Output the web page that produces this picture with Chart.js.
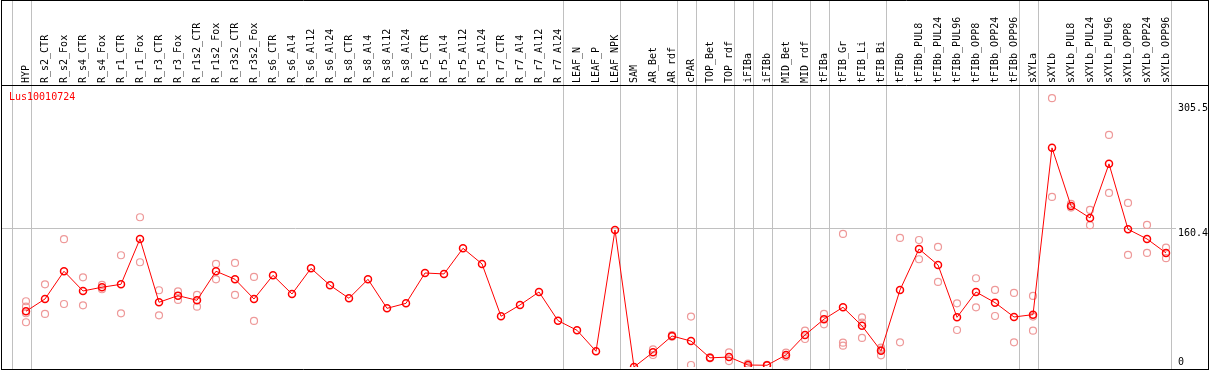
<!DOCTYPE html>
<html>
<head>
<meta charset="utf-8">
<script src="https://cdn.jsdelivr.net/npm/chart.js@4.4.1/dist/chart.umd.min.js"></script>
<style>
  html, body { margin: 0; padding: 0; background: #fff; }
  #wrap { width: 1209px; height: 370px; position: relative; }
</style>
</head>
<body>
<div id="wrap"><canvas id="grafico"></canvas></div>
<script>
// categorias (amostras)
const categorias = [
  'HYP', 'R_s2_CTR', 'R_s2_Fox', 'R_s4_CTR', 'R_s4_Fox', 'R_r1_CTR', 'R_r1_Fox',
  'R_r3_CTR', 'R_r3_Fox', 'R_r1s2_CTR', 'R_r1s2_Fox', 'R_r3s2_CTR', 'R_r3s2_Fox',
  'R_s6_CTR', 'R_s6_Al4', 'R_s6_Al12', 'R_s6_Al24', 'R_s8_CTR', 'R_s8_Al4', 'R_s8_Al12',
  'R_s8_Al24', 'R_r5_CTR', 'R_r5_Al4', 'R_r5_Al12', 'R_r5_Al24', 'R_r7_CTR', 'R_r7_Al4',
  'R_r7_Al12', 'R_r7_Al24', 'LEAF_N', 'LEAF_P', 'LEAF_NPK', 'SAM', 'AR_Bet', 'AR_rdf',
  'cPAR', 'TOP_Bet', 'TOP_rdf', 'iFIBa', 'iFIBb', 'MID_Bet', 'MID_rdf', 'tFIBa',
  'tFIB_Gr', 'tFIB_Li', 'tFIB_Bi', 'tFIBb', 'tFIBb_PUL8', 'tFIBb_PUL24', 'tFIBb_PUL96',
  'tFIBb_OPP8', 'tFIBb_OPP24', 'tFIBb_OPP96', 'sXYLa', 'sXYLb', 'sXYLb_PUL8',
  'sXYLb_PUL24', 'sXYLb_PUL96', 'sXYLb_OPP8', 'sXYLb_OPP24', 'sXYLb_OPP96'
];

// média de expressão
const medias = [
  64.5, 78.7, 110.8, 88, 92.3, 95.7, 148.2, 74.9, 82.6, 77.2, 110.8, 101.5, 78.7,
  106.1, 84.5, 114.2, 94.6, 79.5, 101.5, 67.9, 73.7, 108.8, 107.7, 137.4, 119.3,
  58.7, 71.8, 86.8, 53.6, 42.5, 18.2, 158.6, 0, 17, 35.9, 30, 10.6, 11.5, 2.3, 2,
  14, 37, 55.4, 69.1, 47.6, 18.7, 89.2, 136.6, 118.1, 57.5, 86.8, 74.5, 57.9, 60.6,
  253.6, 186.4, 172.5, 235.1, 159.4, 148.2, 132
];

// réplicas por amostra
const replicas = [
  [76.1, 69.8, 62.2, 51.8], [95.7, 61.4], [147.9, 72.9], [103.8, 71.4], [95, 90],
  [129.3, 62.1], [173.3, 121.2], [88.8, 59.8], [87.6, 77.6], [83.4, 69.8],
  [119.3, 101.5], [120.4, 83.4], [104.2, 53.3],
  [], [], [], [], [], [], [], [], [], [], [], [], [], [], [], [], [], [], [], [],
  [20.5, 13.9], [37, 35], [58.3, 2.3], [11.2, 10], [17, 6.9], [4, 0.5], [2.5, 1.5],
  [16.6, 12], [42, 32.4], [61.4, 49.4], [154, 28.1, 24.7], [57.5, 51.3, 33.6],
  [22.4, 20, 13.5], [149.4, 28.6], [147, 124.7], [139, 98.4], [73.7, 42.8],
  [102.7, 69.1], [89.2, 59], [85.7, 28.6], [82.2, 58.3, 42], [311.1, 196.8],
  [188.7, 184.5], [181.8, 164.1], [268.6, 201.5], [189.9, 129.7], [164.4, 132],
  [138.2, 125.9]
];

// índices após os quais há uma linha de separação
const separadores = [-1, 0, 28, 31, 34, 35, 37, 38, 39, 41, 42, 45, 52, 53, 60];

const yTicks = [0, 160.4, 305.5];
const titulo = 'Lus10010724';

const FONTE = '"DejaVu Sans Mono", monospace';

const pontosMedia = medias.map((v, i) => ({ x: i, y: v }));
const pontosReplicas = [];
replicas.forEach((lista, i) => lista.forEach(v => pontosReplicas.push({ x: i, y: v })));

// moldura, separadores e título
const moldura = {
  id: 'moldura',
  beforeDatasetsDraw(chart) {
    const ctx = chart.ctx;
    const xs = chart.scales.x;
    ctx.save();
    ctx.strokeStyle = '#c0c0c0';
    ctx.lineWidth = 1;
    separadores.forEach(s => {
      const px = Math.round(xs.getPixelForValue(s + 0.24)) + 0.5;
      ctx.beginPath();
      ctx.moveTo(px, 0);
      ctx.lineTo(px, 369);
      ctx.stroke();
    });
    ctx.restore();
  },
  afterDraw(chart) {
    const ctx = chart.ctx;
    ctx.save();
    ctx.strokeStyle = '#000';
    ctx.lineWidth = 1;
    ctx.beginPath();
    ctx.moveTo(1.5, 0.5); ctx.lineTo(1208.5, 0.5);
    ctx.moveTo(1.5, 85.5); ctx.lineTo(1208.5, 85.5);
    ctx.moveTo(1.5, 369.5); ctx.lineTo(1208.5, 369.5);
    ctx.moveTo(1.5, 0); ctx.lineTo(1.5, 370);
    ctx.moveTo(1208.5, 0); ctx.lineTo(1208.5, 370);
    ctx.stroke();
    ctx.fillStyle = '#ff0000';
    ctx.font = '10px ' + FONTE;
    ctx.textBaseline = 'top';
    ctx.fillText(titulo, 9, 92);
    ctx.restore();
  }
};

new Chart(document.getElementById('grafico'), {
  type: 'line',
  data: {
    datasets: [
      {
        label: 'média',
        data: pontosMedia,
        borderColor: '#ff0000',
        borderWidth: 1,
        tension: 0,
        pointRadius: 3.5,
        pointBorderWidth: 1.5,
        pointBorderColor: '#ff0000',
        pointBackgroundColor: 'rgba(0,0,0,0)',
        fill: false
      },
      {
        label: 'réplicas',
        data: pontosReplicas,
        showLine: false,
        pointRadius: 3.5,
        pointBorderWidth: 1.2,
        pointBorderColor: '#ee9999',
        pointBackgroundColor: 'rgba(0,0,0,0)'
      }
    ]
  },
  options: {
    responsive: true,
    maintainAspectRatio: false,
    animation: false,
    layout: { autoPadding: false, padding: { top: 0, left: 2, right: 1, bottom: 3 } },
    plugins: {
      legend: { display: false },
      tooltip: { enabled: false }
    },
    scales: {
      x: {
        type: 'linear',
        position: 'top',
        min: -1.263,
        max: 60.526,
        grid: { display: false, drawTicks: false },
        border: { display: false },
        afterBuildTicks: (scale) => {
          scale.ticks = categorias.map((c, i) => ({ value: i }));
        },
        afterFit: (scale) => {
          scale.height = 86;
          scale.paddingLeft = 0;
          scale.paddingRight = 0;
        },
        ticks: {
          autoSkip: false,
          minRotation: 90,
          maxRotation: 90,
          padding: 3,
          labelOffset: 12,
          color: '#000',
          font: { family: FONTE, size: 10 },
          callback: (v) => categorias[v]
        }
      },
      y: {
        type: 'linear',
        position: 'right',
        min: 0,
        max: 325.2,
        border: { display: false },
        grid: {
          drawTicks: false,
          color: (c) => (c.tick && c.tick.value === 160.4 ? '#c0c0c0' : 'rgba(0,0,0,0)')
        },
        afterBuildTicks: (scale) => {
          scale.ticks = yTicks.map(v => ({ value: v }));
        },
        afterFit: (scale) => {
          scale.width = 32;
          scale.paddingTop = 0;
          scale.paddingBottom = 0;
        },
        ticks: {
          padding: 2,
          color: '#000',
          font: { family: FONTE, size: 10, lineHeight: 1 },
          callback: (v) => (v === 0 ? ['0', ''] : ['', String(v)])
        }
      }
    }
  },
  plugins: [moldura]
});
</script>
</body>
</html>
